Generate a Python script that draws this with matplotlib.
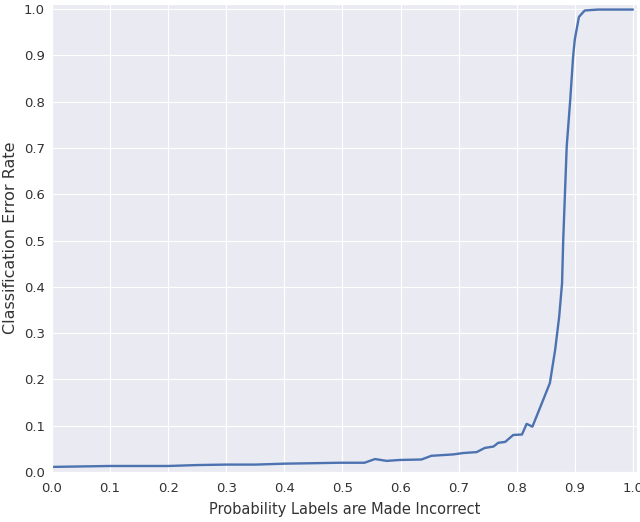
import matplotlib
matplotlib.use("Agg")
import matplotlib.pyplot as plt
import seaborn as sns

x_prob = [0.0, 0.05, 0.1, 0.15, 0.2, 0.25, 0.3, 0.35, 0.4, 0.45, 0.495, 0.538, 0.556, 0.576,
          0.599, 0.636, 0.653, 0.691, 0.708, 0.731, 0.745, 0.760, 0.768, 0.780, 0.794,
          0.809, 0.817, 0.827, 0.843, 0.857, 0.866, 0.873, 0.878, 0.880, 0.883, 0.886,
          0.892, 0.897, 0.900, 0.907, 0.917, 0.94, 1.0]
error_rate = [0.011, 0.012, 0.013, 0.013, 0.013, 0.015, 0.016, 0.016, 0.018, 0.019, 0.020,
              0.020, 0.028, 0.024, 0.026, 0.027, 0.035, 0.038, 0.041, 0.043, 0.052, 0.055,
              0.063, 0.065, 0.080, 0.081, 0.104, 0.098, 0.148, 0.192, 0.263, 0.335, 0.408,
              0.501, 0.602, 0.703, 0.803, 0.897, 0.935, 0.983, 0.997, 0.999, 0.999]

xticks = [0.0, 0.1, 0.2, 0.3, 0.4, 0.5, 0.6, 0.7, 0.8, 0.9, 1.0]
yticks = [0.0, 0.1, 0.2, 0.3, 0.4, 0.5, 0.6, 0.7, 0.8, 0.9, 1.0]

sns.set_style("darkgrid")
plt.rcParams['font.family'] = ['DejaVu Sans']

fig = plt.figure(figsize=(6.4, 5.22), dpi=100)
ax = fig.add_axes([52 / 640, 50 / 522, 585 / 640, 468 / 522])
ax.plot(x_prob, error_rate, color="#4C72B0", linewidth=1.7)
ax.set_xlim(0, 1.007)
ax.set_ylim(0, 1.011)
ax.set_xticks(xticks)
ax.set_yticks(yticks)
ax.set_xticklabels([f"{t:.1f}" for t in xticks])
ax.set_yticklabels([f"{t:.1f}" for t in yticks])
ax.tick_params(axis="both", labelsize=9.5, colors="#333333", length=0)
ax.tick_params(axis="x", pad=7)
ax.tick_params(axis="y", pad=5)
ax.set_xlabel("Probability Labels are Made Incorrect", fontsize=10.5, color="#333333", labelpad=5)
ax.set_ylabel("Classification Error Rate", fontsize=11.5, color="#333333", labelpad=4)
fig.savefig("out.png", dpi=100)
